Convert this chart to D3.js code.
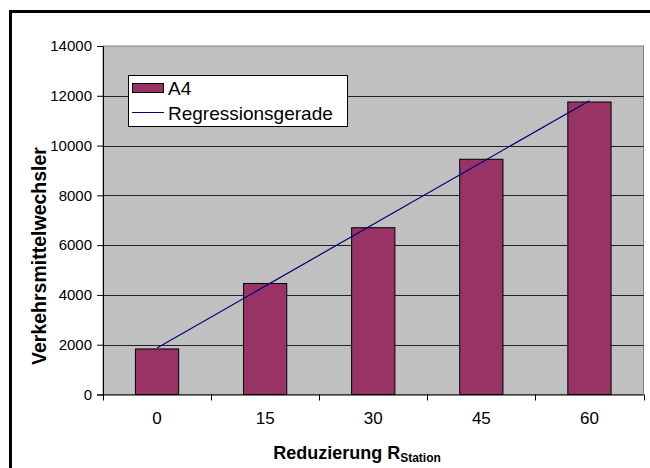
<!DOCTYPE html>
<html>
<head>
<meta charset="utf-8">
<script src="https://cdn.jsdelivr.net/npm/d3@7/dist/d3.min.js"></script>
<style>
body{margin:0;background:#fff;}
svg text{font-family:"Liberation Sans",Arial,sans-serif;fill:#000;}
</style>
</head>
<body>
<svg id="chart" width="650" height="468"></svg>
<script>
// values
var categories=["0","15","30","45","60"];
var values=[1830,4460,6700,9450,11750];
var yTicks=[0,2000,4000,6000,8000,10000,12000,14000];
var seriesName="A4";
var lineName="Regressionsgerade";

var plotLeft=103, plotRight=643.5, plotTop=46, plotBottom=394.5;

var svg=d3.select("#chart");

svg.append("rect")
.attr("width",650)
.attr("height",468)
.attr("fill","#fff")

// outer frame (only top and left visible)
svg.append("line")
.attr("x1",9).attr("x2",650).attr("y1",11.5).attr("y2",11.5)
.attr("stroke","#000").attr("stroke-width",3)
svg.append("line")
.attr("x1",10.5).attr("x2",10.5).attr("y1",10).attr("y2",468)
.attr("stroke","#000").attr("stroke-width",3)

var xScale=d3.scaleBand()
.domain(categories)
.range([plotLeft,plotRight])
.paddingInner(0.6)
.paddingOuter(0.3)

var yScale=d3.scaleLinear()
.domain([0,14000])
.range([plotBottom,plotTop])

// plot area
svg.append("rect")
.attr("x",plotLeft).attr("y",plotTop)
.attr("width",plotRight-plotLeft).attr("height",plotBottom-plotTop)
.attr("fill","#c0c0c0")
.attr("stroke","#808080")

svg.append("g")
.selectAll("line")
.data(yTicks.filter(d=>d>0&&d<14000))
.enter()
.append("line")
.attr("x1",plotLeft).attr("x2",plotRight)
.attr("y1",d=>Math.round(yScale(d))+0.5)
.attr("y2",d=>Math.round(yScale(d))+0.5)
.attr("stroke","#222")

// bars
svg.append("g")
.selectAll("rect")
.data(values)
.enter()
.append("rect")
.attr("x",(d,i)=>xScale(categories[i]))
.attr("y",d=>yScale(d))
.attr("width",xScale.bandwidth())
.attr("height",d=>plotBottom-yScale(d))
.attr("fill","#993366")
.attr("stroke","#000")

// regression line, least squares over the bar values
var idx=values.map((d,i)=>i);
var mx=d3.mean(idx), my=d3.mean(values);
var slope=d3.sum(idx,i=>(i-mx)*(values[i]-my))/d3.sum(idx,i=>(i-mx)*(i-mx));
var icpt=my-slope*mx;
var ends=[0,values.length-1];
svg.append("path")
.datum(ends)
.attr("d",d3.line()
	.x(i=>xScale(categories[i])+xScale.bandwidth()/2)
	.y(i=>yScale(icpt+slope*i)))
.attr("fill","none")
.attr("stroke","#000080")
.attr("stroke-width",1.2)

// y axis
var yAxis=d3.axisLeft(yScale)
.tickValues(yTicks)
.tickSize(6)
.tickPadding(5)
.tickFormat(d3.format("d"))

svg.append("g")
.attr("transform","translate("+plotLeft+",0)")
.call(yAxis)
.call(g=>g.select(".domain").attr("stroke","#000"))
.call(g=>g.selectAll("text").attr("font-size","15px").attr("font-family","Liberation Sans, Arial, sans-serif"))

// x axis
var xAxis=d3.axisBottom(xScale)
.tickSize(0)
.tickPadding(17)

svg.append("g")
.attr("transform","translate(0,"+plotBottom+")")
.call(xAxis)
.call(g=>g.select(".domain").attr("d","M"+plotLeft+",0.5H"+plotRight).attr("stroke","#000"))
.call(g=>g.selectAll("text").attr("font-size","17px").attr("font-family","Liberation Sans, Arial, sans-serif"))

var step=xScale.step();
svg.append("g")
.selectAll("line")
.data(d3.range(categories.length+1))
.enter()
.append("line")
.attr("x1",i=>Math.round(plotLeft+i*step)+0.5)
.attr("x2",i=>Math.round(plotLeft+i*step)+0.5)
.attr("y1",plotBottom)
.attr("y2",plotBottom+6)
.attr("stroke","#000")

// axis titles
svg.append("text")
.attr("transform","translate(46,256) rotate(-90)")
.attr("text-anchor","middle")
.attr("font-weight","bold")
.attr("font-size","19.5px")
.text("Verkehrsmittelwechsler")

var xt=svg.append("text")
.attr("x",357)
.attr("y",459)
.attr("text-anchor","middle")
.attr("font-weight","bold")
.attr("font-size","18px")
xt.append("tspan").text("Reduzierung R")
xt.append("tspan").attr("font-size","12px").attr("dy",3).text("Station")

// legend
var lg=svg.append("g")
lg.append("rect")
.attr("x",128.5).attr("y",75.5)
.attr("width",219).attr("height",51)
.attr("fill","#fff").attr("stroke","#000")
lg.append("rect")
.attr("x",132.5).attr("y",83.5)
.attr("width",31).attr("height",9)
.attr("fill","#993366").attr("stroke","#000")
lg.append("text")
.attr("x",168).attr("y",95)
.attr("font-size","19px")
.text(seriesName)
lg.append("line")
.attr("x1",132).attr("x2",164).attr("y1",112.5).attr("y2",112.5)
.attr("stroke","#000080")
lg.append("text")
.attr("x",168).attr("y",120)
.attr("font-size","19px")
.text(lineName)
</script>
</body>
</html>
